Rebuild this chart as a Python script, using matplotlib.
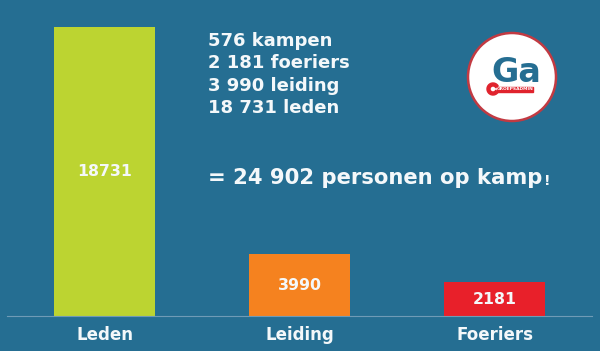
import matplotlib
matplotlib.use("Agg")

import matplotlib.pyplot as plt
from matplotlib.patches import Circle, Wedge, Rectangle

categories = ["Leden", "Leiding", "Foeriers"]
values = [18731, 3990, 2181]
bar_colors = ["#bcd431", "#f5821f", "#e8202a"]

summary_lines = ["576 kampen", "2 181 foeriers", "3 990 leiding", "18 731 leden"]
total_text = "= 24 902 personen op kamp"

BG = "#256e92"
TEXT = "#f4f8fa"

plt.rcParams["font.family"] = ["DejaVu Sans"]

fig = plt.figure(figsize=(6.0, 3.51), dpi=100, facecolor=BG)
ax = fig.add_axes([7 / 600, 35 / 351, 585 / 600, 306 / 351])
ax.set_facecolor(BG)

x = range(len(categories))
bars = ax.bar(x, values, width=0.515, color=bar_colors, zorder=2)
ax.set_xlim(-0.5, 2.5)
ax.set_ylim(0, 18731 * 306 / 289)

for rect, v in zip(bars, values):
    ax.text(rect.get_x() + rect.get_width() / 2, v / 2, str(v),
            ha="center", va="center", color=TEXT, fontsize=11.3,
            fontweight="bold", zorder=3)

for s in ["top", "right", "left"]:
    ax.spines[s].set_visible(False)
ax.spines["bottom"].set_color("#6f9bb6")
ax.spines["bottom"].set_linewidth(0.8)
ax.set_yticks([])
ax.set_xticks(list(x))
ax.set_xticklabels(categories, color=TEXT, fontsize=12, fontweight="bold")
ax.tick_params(axis="x", length=0, pad=7)

# summary text block
for i, line in enumerate(summary_lines):
    fig.text(208 / 600, 1 - (41 + i * 22.5) / 351, line, color=TEXT,
             fontsize=13, fontweight="bold", ha="left", va="center")

t = fig.text(208 / 600, 1 - 178 / 351, total_text, color=TEXT,
             fontsize=15.2, fontweight="bold", ha="left", va="center")
fig.canvas.draw()
bb = t.get_window_extent()
fig.text(bb.x1 / 600 + 0.002, 1 - 181 / 351, "!", color=TEXT,
         fontsize=10, fontweight="bold", ha="left", va="center")

# logo
lax = fig.add_axes([462 / 600, 1 - 127 / 351, 100 / 600, 100 / 351])
lax.set_xlim(-50, 50)
lax.set_ylim(-50, 50)
lax.set_aspect("equal")
lax.axis("off")
lax.add_patch(Circle((0, 0), 44, facecolor="white", edgecolor="#c23a42", lw=1.8))
lax.text(4, 5, "Ga", color="#256e92", fontsize=24, fontweight="bold",
         ha="center", va="center")
lax.add_patch(Wedge((-19, -12), 6, 30, 330, width=3, color="#e0232d"))
lax.add_patch(Rectangle((-15, -14.5), 36, 5, color="#e0232d"))
lax.text(3, -12, "GROEPSADMIN", color="white", fontsize=3.2,
         fontweight="bold", ha="center", va="center")

fig.savefig("out.png", dpi=100, facecolor=BG)
